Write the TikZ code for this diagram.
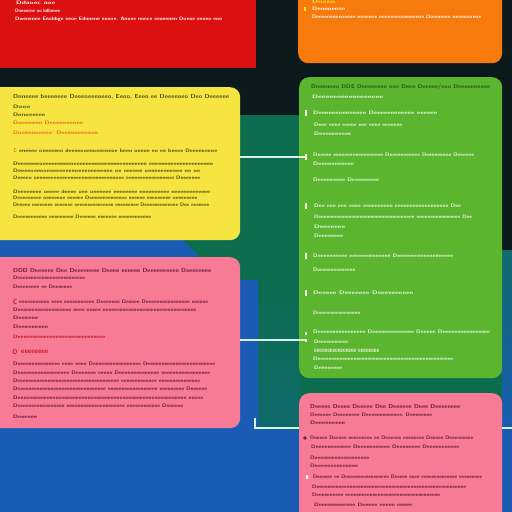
\documentclass[tikz,border=0pt]{standalone}
\usepackage{graphicx}
\definecolor{bgdark}{HTML}{0B191C}
\definecolor{bggreen}{HTML}{0C6C4E}
\definecolor{bgteal}{HTML}{0F6A6C}
\definecolor{bgblue}{HTML}{1A5CB4}
\definecolor{cred}{HTML}{DC1010}
\definecolor{corange}{HTML}{F77A0C}
\definecolor{cyellow}{HTML}{F6E540}
\definecolor{cgreen}{HTML}{5BB52F}
\definecolor{cpink}{HTML}{F77B95}
\definecolor{cline}{HTML}{D8F0F0}
\definecolor{ytext}{HTML}{4A4A12}
\definecolor{yorange}{HTML}{E8641C}
\definecolor{gdark}{HTML}{245418}
\definecolor{gwhite}{HTML}{EEF8E4}
\definecolor{pdark}{HTML}{6A1838}
\definecolor{pred}{HTML}{C81028}
\newcommand\tln[6]{\node[tline,text=#5] (#1) at (#2,#3) {\resizebox{#4pt}{3.4pt}{#6}};}
\newcommand\thd[6]{\node[tline,text=#5] (#1) at (#2,#3) {\resizebox{#4pt}{4pt}{#6}};}
\begin{document}
\begin{tikzpicture}[x=1pt,y=-1pt,
  tline/.style={anchor=west,inner sep=0pt,font=\sffamily\bfseries},
  card/.style={anchor=north west,inner sep=0pt,rounded corners=10pt},
  conn/.style={draw=cline,line width=1.1pt},
  gbar/.style={fill=gwhite,minimum width=1.6pt,minimum height=6pt,inner sep=0pt}]
\useasboundingbox (0,0) rectangle (512,512);
% background
\fill[bgdark] (0,0) rectangle (512,512);
\fill[bggreen] (0,115) rectangle (502,430);
\shade[top color=bggreen,bottom color=bgteal] (258,280) rectangle (300,430);
\fill[bgblue] (0,235) -- (178,235) -- (205,262) -- (240,280) -- (258,280) -- (258,430) -- (512,430) -- (512,512) -- (0,512) -- cycle;
\shade[top color=bgteal,bottom color=bgblue] (502,250) rectangle (512,430);
% cards
\node[card,fill=cred,rounded corners=0pt,minimum width=256pt,minimum height=68pt] (red) at (0,0) {};
\node[card,fill=corange,minimum width=204pt,minimum height=78pt] (orange) at (298,-15) {};
\node[card,fill=cyellow,minimum width=250pt,minimum height=153pt] (yellow) at (-10,87) {};
\node[card,fill=cgreen,minimum width=203pt,minimum height=301pt] (green) at (299,77) {};
\node[card,fill=cpink,minimum width=250pt,minimum height=171pt] (pinkl) at (-10,257) {};
\node[card,fill=cpink,minimum width=203pt,minimum height=140pt] (pinkr) at (299,393) {};
% red texts
\tln{r1}{16}{3}{39}{white}{Ddaoec aoe}
\tln{r2}{15}{11}{45}{white}{Dnnoecne oo bdbnnee}
\tln{r3}{15}{19}{207}{white}{Dwenenne Enobbge eeoe Ednnene eoeoe. Anoee noece eeonenen Doeoe eeoeo eoo}
% orange texts
\tln{o1}{312}{2}{23}{cyellow}{Doeen}
\node[fill=cyellow,minimum width=1.6pt,minimum height=4pt,inner sep=0pt] (ob) at (305,9) {};
\tln{o2}{312}{9}{33}{white}{Dennoeene}
\tln{o3}{312}{17}{169}{white}{Deeeenenoeoeeen noeeeoe oeoeeoeoeeneeeoe Doeonoen oeoeoeoeoe}
% yellow texts
\thd{y1}{13}{97}{216}{ytext}{Dnneeee beeeeeee Deeeoeeeoeeo, Eeoo, Eeeo ee Deeeeoeo Deo Deeeeee}
\tln{y2}{13}{107}{17}{ytext}{Dooo}
\tln{y3}{13}{115}{32}{ytext}{Dnnoeeeee}
\tln{y4}{13}{123}{70}{yorange}{Doeeoeen Deeeeoeeoee}
\tln{y5}{13}{133}{85}{yorange}{Doeeeooeeeo' Deeeeoeeoeoe}
\node[text=yorange,inner sep=0pt,font=\sffamily\bfseries] (yb) at (15,151) {\resizebox{3pt}{4pt}{C}};
\tln{y6}{19}{151}{198}{ytext}{eneeee oeeeeeeo deeeeooeeoeeeoeoe beeo oeeoe eo ee beeee Deeeeoeeoe}
\tln{y7}{13}{164}{200}{ytext}{Deeeeeeeoeeeeeeeeeoeeeeeeeeeeeeeeeeeeeeeeee eeeeeeeeeeeeeeeeeeeee}
\tln{y8}{13}{171}{187}{ytext}{Deeeeoeeeoeeeeeeeeeoeeeeeeeeeee oe eeeeee oeeeeeeeeeee oe oe}
\tln{y9}{13}{178}{187}{ytext}{Deeeeo oeeeeeeeeeeeeeeeeeeeeeeeeeeeeoee eeeeeeeeeeeeeeeoe Deeeeeee}
\tln{y10}{13}{192}{197}{ytext}{Deeeeeeee oeeee deeee oee oeeeeee eeeeeeee eeeeeeeeee eeeeeeeeeeeee}
\tln{y11}{13}{198}{184}{ytext}{Deeeeeeeee oeeeeeoe eeeeee Deeeeeeeeeeeeoe eeeeee eeeeeeeee oeeeeeeee}
\tln{y12}{13}{205}{196}{ytext}{Deeeee eeeeeeee eeeeeee eeeeeeeeeeeeeee eeeeeeeee Deeeeeeeeeeeee Dee eeeeeee}
\tln{y13}{13}{217}{138}{ytext}{Deeeeeeeeeee eeeeeeeee Deeeeee eeeeeee eeeeeeeeeeee}
% green texts
\thd{g1}{311}{87}{179}{gdark}{Dnnnnneo DDE Deeeeeeoe ooe Deeo Deeeee/eoo Deeoeeoeoee}
\tln{g2}{312}{97}{71}{gwhite}{Deeeeeeeeeeeeeeeee}
\node[gbar] (gb1) at (306,113) {};
\tln{g3}{313}{113}{124}{gwhite}{Deeeeeeoeeeeeee Deeeeeeeeeeee eeeeee}
\tln{g4}{314}{125}{88}{gwhite}{Deee eeee eeeee eee eeee eeeeeee}
\tln{g5}{314}{134}{37}{gwhite}{Deeeeeeeeee}
\node[gbar] (gb2) at (306,157) {};
\tln{g6}{313}{155}{161}{gwhite}{Deeeee eeeeeeeeeeeeeeeeee Deeeeeeeeeee Deeeeeeeee Deeeeee}
\tln{g7}{313}{164}{41}{gwhite}{Deeeeeeeeeee}
\tln{g8}{313}{180}{66}{gwhite}{Deeeeeeeee Deeeeeeeee}
\node[gbar] (gb3) at (306,206) {};
\tln{g9}{314}{206}{147}{gwhite}{Dee eee eee eeee eeeeeeeeee eeeeeeeeeeeeeeeeee Dee}
\tln{g10}{314}{217}{158}{gwhite}{Deeeeeeeeeeeeeeeeeeeeeeeeeeeeeeeeeee eeeeeeeeeeeeeeee Dee}
\tln{g11}{314}{227}{31}{gwhite}{Deeeeeee}
\tln{g12}{314}{236}{29}{gwhite}{Deeeeeeee}
\node[gbar] (gb4) at (306,256) {};
\tln{g13}{313}{256}{140}{gwhite}{Deeeeeeeeee eeeeeeeeeeeeee Deeeeeeeeeeeeeeeeeee}
\tln{g14}{313}{270}{42}{gwhite}{Deeeeeeeeeeeeee}
\node[gbar] (gb5) at (306,293) {};
\tln{g15}{313}{293}{100}{gwhite}{Deeeee Deeeeeee Deeeeeeeeee}
\tln{g16}{313}{313}{47}{gwhite}{Deeeeeeeeeeeeeeee}
\node[gbar,minimum height=3pt] (gb6) at (306,333) {};
\node[gbar,minimum height=3pt] (gb7) at (306,340) {};
\tln{g17}{313}{332}{177}{gwhite}{Deeeeeeeeeeeeeeee Deeeeeeeeeeeeee Deeeee Deeeeeeeeeeeeeeee}
\tln{g18}{314}{342}{34}{gwhite}{Deeeeeeeeeee}
\tln{g19}{314}{351}{65}{gwhite}{eeeeeeeeeeeeeeee eeeeeeee}
\tln{g20}{313}{359}{140}{gwhite}{Deeeeeeeeeeeeeeeeeeeeeeeeeeeeeeeeeeeeeeeeeeeeeeeee}
\tln{g21}{314}{368}{28}{gwhite}{Deeeeeeee}
% pink left texts
\thd{p1}{13}{271}{198}{pdark}{DDD Deeeeee Dee Deeeeeeee Deeee eeeeee Deeeeeeeeee Deeeeeeee}
\tln{p2}{13}{278}{72}{pdark}{Deeeeeeeeeeeeeeeeeeeeeeeee}
\tln{p3}{13}{287}{59}{pdark}{Deeeeeeee ee Deeeeeee}
\node[text=pred,inner sep=0pt,font=\sffamily\bfseries] (pc) at (15,302) {\resizebox{4pt}{5pt}{C}};
\tln{p4}{19}{302}{189}{pdark}{eeeeeeeeeee eeee eeeeeeeeeee Deeeeeee Deeeee Deeeeeeeeeeeeeeee eeeeee}
\tln{p5}{13}{310}{183}{pdark}{Deeeeeeeeeeeeeeeeeee eeee eeeee eeeeeeeeeeeeeeeeeeeeeeeeeeeeeeeee}
\tln{p6}{13}{318}{25}{pdark}{Deeeeee}
\tln{p7}{13}{327}{35}{pdark}{Deeeeeeeee}
\tln{p8}{13}{337}{92}{pred}{Deeeeeeeeeeeeeeeeeeeeeeeeeeeeee}
\node[text=pred,inner sep=0pt,font=\sffamily\bfseries] (po) at (15,352) {\resizebox{5pt}{5pt}{O}};
\tln{p9}{21}{352}{27}{pred}{eeeeeeee}
\tln{p10}{13}{364}{202}{pdark}{Deeeeeeeeeeeeeee eeee eeee Deeeeeeeeeeeeeeeee Deeeeeeeeeeeeeeeeeeeeeeee}
\tln{p11}{13}{373}{197}{pdark}{Deeeeeeeeeeeeeeeeee Deeeeeee eeeee Deeeeeeeeeeeeee eeeeeeeeeeeeeeeee}
\tln{p12}{13}{381}{187}{pdark}{Deeeeeeeeeeeeeeeeeeeeeeeeeeeeeeeeeeeee eeeeeeeeeeeee eeeeeeeeeeeeeee}
\tln{p13}{13}{389}{194}{pdark}{Deeeeeeeeeeeeeeeeeeeeeeeeeeeeeeee eeeeeeeeeeeeeeeeee eeeeeeeee Deeeeee}
\tln{p14}{13}{398}{190}{pdark}{Deeeeeeeeeeeeeeeeeeeeeeeeeeeeeeeeeeeeeeeeeeeeeeeeeeeeeeeeee eeeee}
\tln{p15}{13}{406}{170}{pdark}{Deeeeeeeeeeeeeeeee eeeeeeeeeeeeeeeeeeeee eeeeeeeeeeee Deeeeee}
\tln{p16}{13}{417}{24}{pdark}{Deeeeee}
% pink right texts
\thd{q1}{310}{407}{150}{pdark}{Deeeee Deeee Deeeee Dee Deeeeee Deee Deeeeeeee}
\tln{q2}{310}{415}{122}{pdark}{Deeeeee Deeeeeeee Deeeeeeeeeeeee, Deeeeeeee}
\tln{q3}{310}{423}{35}{pdark}{Deeeeeeeee}
\draw[pdark,line width=0.9pt] (305,438) circle (1.3pt) node[inner sep=0pt] (qo) {};
\tln{q4}{310}{438}{163}{pdark}{Deeeee Deeeee eeeeeeeee ee Deeeeee eeeeeeee Deeeee Deeeeeeeee}
\tln{q5}{311}{447}{148}{pdark}{Deeeeeeeeeeee Deeeeeeeeeee Deeeeeeee Deeeeeeeeeee}
\tln{q6}{310}{458}{59}{pdark}{Deeeeeeeeeeeeeeeeeee}
\tln{q7}{310}{466}{48}{pdark}{Deeeeeeeeeeeeee}
\node[fill=white,rounded corners=0.8pt,minimum width=2.5pt,minimum height=4pt,inner sep=0pt] (qw) at (307,477) {};
\tln{q8}{313}{477}{169}{pdark}{Deeeeee ee Deeeeeeeeeeeeeeeee Deeeee eeee eeeeeeeeeeeeee eeeeeeeee}
\tln{q9}{312}{487}{154}{pdark}{Deeeeeeeeeeeeeeeeeeeeeeeeeeeeeeeeeeeeeeeeeeeeeeeeeeeeee}
\tln{q10}{312}{495}{128}{pdark}{Deeeeeeeeee eeeeeeeeeeeeeeeeeeeeeeeeeeeeeeeeeee}
\tln{q11}{314}{505}{98}{pdark}{Deeeeeeeeeeee Deeeee eeeee eeeee}
% connectors
\coordinate (k1) at (255,418);
\coordinate (k2) at (512,425);
\draw[conn] (yellow.east |- gb2) -- (gb2.west);
\draw[conn] (pinkl.east |- gb7) -- (gb7.west);
\draw[conn] (k1) |- (pinkr.west |- 0,428);
\draw[conn] (pinkr.east |- 0,428) -- (k2 |- 0,428);
\end{tikzpicture}
\end{document}
